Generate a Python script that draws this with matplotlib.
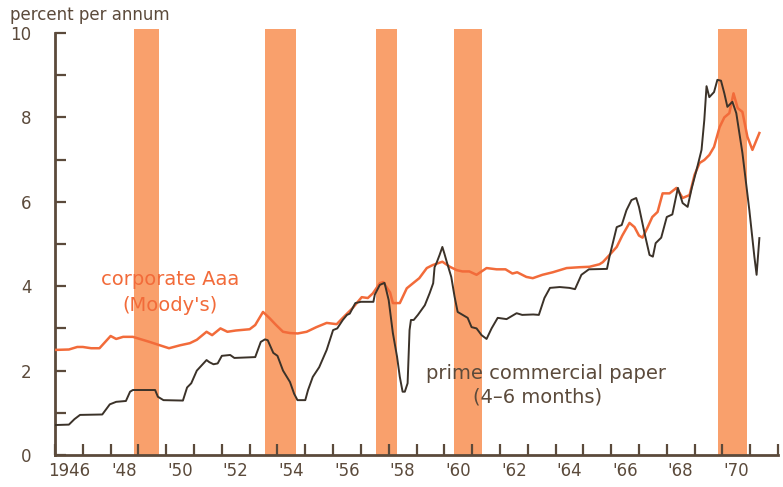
# Interest rates 1946-1971: corporate Aaa vs prime commercial paper
import matplotlib
matplotlib.use('Agg')
import matplotlib.pyplot as plt

# prime commercial paper (4-6 months), year / percent
cp_t = [1946.0, 1946.5, 1946.7, 1946.9, 1947.7, 1947.97, 1948.2, 1948.55, 1948.7, 1948.8,
        1949.6, 1949.7, 1949.9, 1950.6, 1950.75, 1950.9, 1951.1, 1951.45, 1951.55, 1951.7,
        1951.85, 1952.0, 1952.3, 1952.45, 1953.2, 1953.4, 1953.55, 1953.65, 1953.85, 1954.0,
        1954.2, 1954.45, 1954.6, 1954.72, 1955.0, 1955.1, 1955.27, 1955.5, 1955.77, 1956.0,
        1956.15, 1956.35, 1956.5, 1956.6, 1956.8, 1957.0, 1957.45, 1957.5, 1957.68, 1957.85,
        1958.0, 1958.15, 1958.3, 1958.4, 1958.5, 1958.58, 1958.68, 1958.75, 1958.8, 1958.9,
        1959.05, 1959.3, 1959.47, 1959.6, 1959.65, 1959.72, 1959.83, 1959.93, 1960.0, 1960.1,
        1960.25, 1960.37, 1960.48, 1960.66, 1960.84, 1960.98, 1961.16, 1961.34, 1961.52, 1961.7,
        1961.92, 1962.24, 1962.6, 1962.8, 1963.2, 1963.4, 1963.6, 1963.8, 1964.15, 1964.5,
        1964.7, 1964.93, 1965.2, 1965.85, 1965.94, 1966.2, 1966.38, 1966.55, 1966.73, 1966.9,
        1967.0, 1967.2, 1967.38, 1967.5, 1967.6, 1967.8, 1968.0, 1968.2, 1968.4, 1968.57,
        1968.75, 1968.9, 1969.1, 1969.25, 1969.35, 1969.43, 1969.53, 1969.7, 1969.82, 1969.95,
        1970.07, 1970.18, 1970.36, 1970.5, 1970.72, 1970.97, 1971.15, 1971.23, 1971.33]
cp_v = [0.71, 0.72, 0.85, 0.95, 0.96, 1.2, 1.26, 1.28, 1.5, 1.54,
        1.54, 1.38, 1.3, 1.29, 1.6, 1.7, 2.0, 2.25, 2.2, 2.15,
        2.17, 2.35, 2.37, 2.3, 2.32, 2.68, 2.74, 2.72, 2.42, 2.35,
        2.0, 1.73, 1.45, 1.3, 1.3, 1.54, 1.85, 2.08, 2.49, 2.96,
        3.0, 3.2, 3.32, 3.35, 3.6, 3.63, 3.63, 3.8, 4.03, 4.08,
        3.67, 2.89, 2.33, 1.85, 1.5, 1.5, 1.7, 2.96, 3.2, 3.2,
        3.32, 3.55, 3.83, 4.07, 4.45, 4.55, 4.74, 4.93, 4.78, 4.55,
        4.22, 3.75, 3.39, 3.32, 3.25, 3.03, 3.0, 2.84, 2.75, 3.0,
        3.25, 3.22, 3.36, 3.32, 3.33, 3.32, 3.72, 3.96, 3.98, 3.96,
        3.93, 4.27, 4.4, 4.41, 4.7, 5.4, 5.45, 5.8, 6.04, 6.09,
        5.88, 5.26, 4.74, 4.7, 5.02, 5.15, 5.64, 5.7, 6.33, 5.97,
        5.88, 6.33, 6.83, 7.23, 7.94, 8.74, 8.48, 8.6, 8.89, 8.87,
        8.57, 8.25, 8.37, 8.1, 7.16, 5.8, 4.7, 4.27, 5.14]

# corporate Aaa (Moody's)
aaa_t = [1946.0, 1946.5, 1946.8, 1947.0, 1947.3, 1947.6, 1948.0, 1948.2, 1948.45, 1948.8,
         1949.05, 1949.4, 1949.77, 1950.1, 1950.5, 1950.85, 1951.1, 1951.45, 1951.65, 1951.95,
         1952.2, 1952.5, 1953.0, 1953.2, 1953.48, 1953.72, 1953.95, 1954.2, 1954.45, 1954.73,
         1955.05, 1955.4, 1955.77, 1956.13, 1956.35, 1956.7, 1957.03, 1957.25, 1957.43, 1957.68,
         1957.8, 1958.05, 1958.15, 1958.4, 1958.65, 1958.93, 1959.1, 1959.37, 1959.58, 1959.93,
         1960.2, 1960.45, 1960.65, 1960.9, 1961.16, 1961.52, 1961.88, 1962.2, 1962.45, 1962.62,
         1962.95, 1963.18, 1963.53, 1963.9, 1964.4, 1964.87, 1965.22, 1965.58, 1965.7, 1965.94,
         1966.2, 1966.4, 1966.66, 1966.84, 1967.0, 1967.13, 1967.3, 1967.48, 1967.67, 1967.85,
         1968.1, 1968.35, 1968.57, 1968.82, 1969.0, 1969.18, 1969.35, 1969.53, 1969.7, 1969.9,
         1970.07, 1970.25, 1970.4, 1970.55, 1970.72, 1970.9, 1971.08, 1971.33]
aaa_v = [2.49, 2.5, 2.56, 2.56, 2.53, 2.53, 2.82, 2.75, 2.8, 2.8,
         2.75, 2.68, 2.6, 2.53, 2.6, 2.65, 2.73, 2.92, 2.84, 3.0,
         2.92, 2.95, 2.98, 3.08, 3.39, 3.24, 3.08, 2.92, 2.89, 2.88,
         2.92, 3.03, 3.13, 3.1, 3.25, 3.48, 3.74, 3.72, 3.83, 4.07,
         4.1, 3.85, 3.6, 3.6, 3.95, 4.1, 4.19, 4.43, 4.5, 4.58,
         4.46, 4.38, 4.35, 4.35, 4.27, 4.43, 4.4, 4.4, 4.3, 4.33,
         4.22, 4.19, 4.27, 4.33, 4.43, 4.45, 4.46, 4.52, 4.57, 4.74,
         4.93, 5.2, 5.5, 5.4, 5.2, 5.15, 5.38, 5.64, 5.76, 6.2,
         6.2, 6.33, 6.09, 6.16, 6.64, 6.92, 6.99, 7.11, 7.3, 7.77,
         8.0, 8.1, 8.57, 8.22, 8.13, 7.54, 7.23, 7.63]

# recession shading (start, end)
rec_start = [1948.84, 1953.55, 1957.53, 1960.34, 1969.86]
rec_end = [1949.74, 1954.66, 1958.29, 1961.34, 1970.90]

years = list(range(1946, 1973))
year_labels = ['1946', "'48", "'50", "'52", "'54", "'56", "'58", "'60", "'62",
               "'64", "'66", "'68", "'70"]

brown = '#5b4a3b'
dark = '#3b3229'
orange = '#f26b3a'
shade = '#f9a06c'

plt.rcParams['font.family'] = ['DejaVu Sans']

fig = plt.figure(figsize=(7.83, 4.87), dpi=100)
ax = fig.add_axes([55/783, 1 - 455/487, (778 - 55)/783, (455 - 33)/487])

for s, e in zip(rec_start, rec_end):
    ax.fill_between([s, e], 0, 10.1, color=shade, lw=0, clip_on=False, zorder=1)

ax.plot(aaa_t, aaa_v, color=orange, lw=1.8, zorder=3)
ax.plot(cp_t, cp_v, color=dark, lw=1.4, zorder=4)

ax.set_xlim(1946, 1972)
ax.set_ylim(0, 10)

for side in ['top', 'right']:
    ax.spines[side].set_visible(False)
for side in ['left', 'bottom']:
    ax.spines[side].set_color(brown)
    ax.spines[side].set_linewidth(2)

ax.set_yticks([0, 2, 4, 6, 8, 10])
ax.set_yticklabels(['0', '2', '4', '6', '8', '10'])
ax.set_yticks([1, 3, 5, 7, 9], minor=True)
ax.tick_params(axis='y', which='both', direction='in', length=8, width=1.6,
               color=brown, labelcolor=brown, labelsize=12, pad=17)

ax.set_xticks(years)
ax.set_xticklabels([])
ax.set_xticks([y + 0.5 for y in range(1946, 1971, 2)], minor=True)
ax.set_xticklabels(year_labels, minor=True)
ax.tick_params(axis='x', which='major', direction='in', length=8, width=1.6, color=brown)
ax.tick_params(axis='x', which='minor', length=0, labelcolor=brown, labelsize=12, pad=5)

fig.text(10/783, 1 - 15/487, 'percent per annum', color=brown, fontsize=12,
         va='center', ha='left')
ax.text(1950.14, 4.15, 'corporate Aaa', color=orange, fontsize=14, ha='center', va='center')
ax.text(1950.14, 3.55, "(Moody's)", color=orange, fontsize=14, ha='center', va='center')
ax.text(1963.65, 1.94, 'prime commercial paper', color=brown, fontsize=14, ha='center', va='center')
ax.text(1963.35, 1.37, '(4\u20136 months)', color=brown, fontsize=14, ha='center', va='center')

fig.savefig('out.png', dpi=100)
